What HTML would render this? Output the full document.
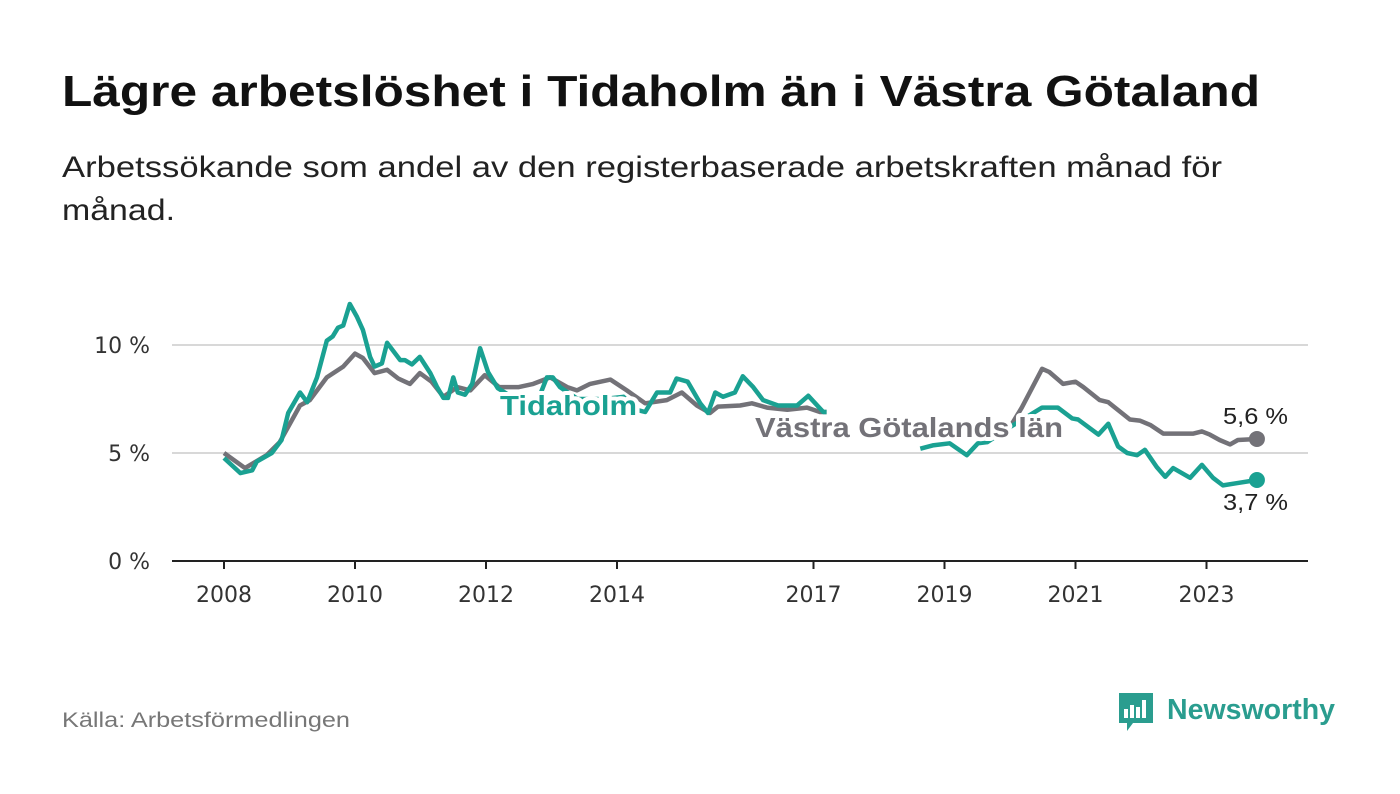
<!DOCTYPE html>
<html><head><meta charset="utf-8"><style>
body{margin:0;background:#fff;font-family:"Liberation Sans",sans-serif}
svg{display:block}
</style></head><body>
<svg width="1400" height="794" xmlns="http://www.w3.org/2000/svg" id="chart">
<text x="62" y="106" font-size="44" font-weight="bold" fill="#111" textLength="1198" lengthAdjust="spacingAndGlyphs">Lägre arbetslöshet i Tidaholm än i Västra Götaland</text>
<text x="62" y="177" font-size="30" fill="#222" textLength="1160" lengthAdjust="spacingAndGlyphs">Arbetssökande som andel av den registerbaserade arbetskraften månad för</text>
<text x="62" y="220" font-size="30" fill="#222" textLength="113" lengthAdjust="spacingAndGlyphs">månad.</text>
<g id="grid"></g>
<g id="series"></g>
<g id="labels"></g>
<text x="62" y="727" font-size="21" fill="#777" textLength="288" lengthAdjust="spacingAndGlyphs">Källa: Arbetsförmedlingen</text>
<g>
<path d="M1119 693h34v30h-20l-6 8v-8h-8z" fill="#2a9d8f"/>
<rect x="1124" y="709" width="4" height="9" fill="#fff"/><rect x="1130" y="705" width="4" height="13" fill="#fff"/><rect x="1136" y="707" width="4" height="11" fill="#fff"/><rect x="1142" y="700" width="4" height="18" fill="#fff"/>
<text x="1167" y="719" font-size="29" font-weight="bold" fill="#2a9d8f" textLength="168" lengthAdjust="spacingAndGlyphs">Newsworthy</text>
</g>
</svg>
<script>
const yTicks=[0,5,10];
const yTickLabels=["0 %","5 %","10 %"];
const xTicks=[2008,2010,2012,2014,2017,2019,2021,2023];
const grayDates=[2008.0,2008.32,2008.65,2008.85,2009.16,2009.31,2009.57,2009.82,2010.0,2010.12,2010.3,2010.49,2010.66,2010.84,2010.99,2011.17,2011.35,2011.56,2011.76,2011.98,2012.2,2012.5,2012.72,2012.98,2013.24,2013.39,2013.59,2013.9,2014.15,2014.43,2014.76,2014.99,2015.22,2015.42,2015.54,2015.88,2016.06,2016.29,2016.6,2016.9,2017.1,2017.2,2018.0,2018.65,2019.0,2019.5,2020.0,2020.18,2020.49,2020.6,2020.81,2021.0,2021.12,2021.37,2021.5,2021.83,2021.98,2022.14,2022.34,2022.8,2022.93,2023.05,2023.2,2023.36,2023.48,2023.77];
const grayValues=[5.0,4.3,4.9,5.5,7.2,7.45,8.5,9.0,9.6,9.4,8.7,8.85,8.45,8.2,8.7,8.3,7.6,8.05,7.9,8.6,8.05,8.05,8.2,8.5,8.05,7.9,8.2,8.4,7.9,7.3,7.45,7.8,7.2,6.85,7.15,7.2,7.3,7.1,7.0,7.1,6.9,6.9,null,5.9,5.9,6.0,6.2,7.1,8.9,8.75,8.2,8.3,8.05,7.45,7.35,6.55,6.5,6.3,5.9,5.9,6.0,5.85,5.6,5.4,5.6,5.65];
const tealDates=[2008.0,2008.25,2008.43,2008.5,2008.73,2008.88,2008.98,2009.16,2009.27,2009.42,2009.57,2009.66,2009.74,2009.82,2009.92,2010.03,2010.12,2010.23,2010.3,2010.41,2010.49,2010.69,2010.76,2010.87,2010.99,2011.15,2011.25,2011.35,2011.42,2011.5,2011.57,2011.68,2011.79,2011.91,2012.03,2012.18,2012.5,2012.8,2012.93,2013.02,2013.13,2013.4,2013.8,2014.1,2014.3,2014.43,2014.61,2014.81,2014.91,2015.08,2015.27,2015.39,2015.5,2015.62,2015.8,2015.92,2016.08,2016.23,2016.46,2016.75,2016.92,2017.15,2017.2,2018.0,2018.63,2018.82,2019.08,2019.34,2019.51,2019.65,2020.0,2020.49,2020.73,2020.95,2021.04,2021.35,2021.5,2021.65,2021.79,2021.94,2022.06,2022.24,2022.37,2022.49,2022.75,2022.93,2023.1,2023.25,2023.46,2023.77];
const tealValues=[4.77,4.07,4.2,4.6,5.0,5.6,6.85,7.8,7.35,8.5,10.2,10.4,10.8,10.9,11.9,11.3,10.7,9.45,9.0,9.15,10.1,9.3,9.3,9.1,9.45,8.7,8.07,7.55,7.55,8.5,7.8,7.7,8.2,9.85,8.75,8.0,7.4,7.5,8.5,8.5,8.05,7.5,7.5,7.6,7.0,6.9,7.8,7.8,8.45,8.3,7.3,6.85,7.8,7.6,7.8,8.55,8.05,7.45,7.2,7.2,7.65,6.9,6.9,null,5.2,5.35,5.45,4.9,5.45,5.5,6.2,7.1,7.1,6.6,6.55,5.85,6.35,5.3,5.0,4.9,5.15,4.35,3.9,4.3,3.85,4.45,3.85,3.5,3.6,3.75];
const NS="http://www.w3.org/2000/svg";
const xS=d=>224+(d-2008)*65.5;
const yS=v=>561-v*21.6;
function mk(tag,attrs,parent){const e=document.createElementNS(NS,tag);for(const k in attrs)e.setAttribute(k,attrs[k]);parent.appendChild(e);return e;}
const grid=document.getElementById('grid');
yTicks.forEach((t,i)=>{
  const l=mk('line',{x1:172,x2:1308,y1:yS(t),y2:yS(t),stroke:t===0?'#222':'#d8d8d8','stroke-width':2},grid);
  
  
  const tx=mk('text',{x:150,y:yS(t)+8,'font-size':22,fill:'#333','text-anchor':'end','font-family':'DejaVu Sans, sans-serif'},grid);
  tx.textContent=yTickLabels[i];
  
  
});
xTicks.forEach(t=>{
  const l=mk('line',{x1:xS(t),x2:xS(t),y1:561,y2:569,stroke:'#222','stroke-width':2},grid);
  
  
  const tx=mk('text',{x:xS(t),y:602,'font-size':22,fill:'#333','text-anchor':'middle','font-family':'DejaVu Sans, sans-serif'},grid);
  tx.textContent=String(t);
  
  
});
function pathD(ds,vs){let d='',pen=false;ds.forEach((x,i)=>{const v=vs[i];if(v===null){pen=false;return;}d+=(pen?'L':'M')+xS(x).toFixed(1)+' '+yS(v).toFixed(1);pen=true;});return d;}
const ser=document.getElementById('series');
const gp=mk('path',{d:pathD(grayDates,grayValues),fill:'none',stroke:'#737278','stroke-width':4.5,'stroke-linejoin':'round'},ser);


const tp=mk('path',{d:pathD(tealDates,tealValues),fill:'none',stroke:'#1aa192','stroke-width':4.5,'stroke-linejoin':'round'},ser);


const gl=grayValues.length-1,tl=tealValues.length-1;
const gd=mk('circle',{cx:xS(grayDates[gl]),cy:yS(grayValues[gl]),r:8,fill:'#737278'},ser);


const td=mk('circle',{cx:xS(tealDates[tl]),cy:yS(tealValues[tl]),r:8,fill:'#1aa192'},ser);


const lab=document.getElementById('labels');
function label(txt,x,y,fill,anchor,bold,size,len){const at={x:x,y:y,fill:fill,'font-size':size,'font-weight':bold?'bold':'normal','text-anchor':anchor,stroke:'#fff','stroke-width':8,'paint-order':'stroke','stroke-linejoin':'round'};if(len){at.textLength=len;at.lengthAdjust='spacingAndGlyphs';}const t=mk('text',at,lab);t.textContent=txt;return t;}
let a=label('Tidaholm',500,415,'#1aa192',"start",true,28,137);


a=label('Västra Götalands län',755,437,'#737278',"start",true,28,308);


a=label('5,6 %',1223,424,'#222',"start",false,23,65);


a=label('3,7 %',1223,510,'#222',"start",false,23,65);


</script>
</body></html>
